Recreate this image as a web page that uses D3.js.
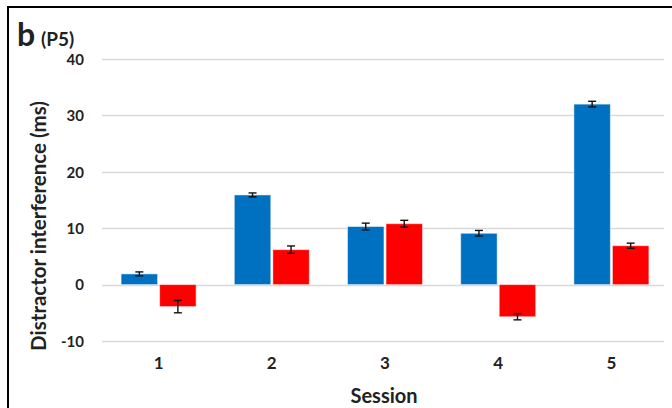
<!DOCTYPE html>
<html>
<head>
<meta charset="utf-8">
<script src="https://cdn.jsdelivr.net/npm/d3@7"></script>
<style>
  html, body { margin: 0; padding: 0; background: #fff; }
  svg { display: block; }
  text { font-family: Lato, "Open Sans", "Liberation Sans", sans-serif; font-weight: 700; fill: #222; }
</style>
</head>
<body>
<svg id="chart" width="672" height="408"></svg>
<script>
// Distractor interference per session (P5), two conditions
const sessions = ["1", "2", "3", "4", "5"];
const seriesNames = ["blue", "red"];
const blueValues = [1.9, 15.9, 10.3, 9.1, 32.0];
const blueErrors = [0.35, 0.35, 0.6, 0.5, 0.5];
const redValues = [-3.9, 6.2, 10.8, -5.7, 6.9];
const redErrors = [1.1, 0.65, 0.6, 0.55, 0.45];
const yTicks = [-10, 0, 10, 20, 30, 40];
const seriesColors = ["#0070C0", "#FF0000"];

const svg = d3.select("#chart");
const W = 672, H = 408;
const plot = { left: 102, right: 668, top: 59, bottom: 341 };

// outer frame (runs off the right and bottom edges)
svg.append("rect")
  .attr("x", 8).attr("y", 7)
  .attr("width", W + 20).attr("height", H + 20)
  .attr("fill", "none").attr("stroke", "#000").attr("stroke-width", 2);

const x = d3.scaleBand().domain(sessions).range([plot.left, plot.right]).paddingInner(0).paddingOuter(0);
const y = d3.scaleLinear().domain([-10, 40]).range([plot.bottom, plot.top]);

// gridlines
svg.append("g").selectAll("line").data(yTicks).join("line")
  .attr("x1", plot.left).attr("x2", plot.right - 4)
  .attr("y1", d => Math.round(y(d)) + 0.5).attr("y2", d => Math.round(y(d)) + 0.5)
  .attr("stroke", "#d9d9d9").attr("stroke-width", 1.5);

// y axis labels
const yAxis = d3.axisLeft(y).tickValues(yTicks).tickFormat(d => String(d)).tickSize(0).tickPadding(0);
const gy = svg.append("g").attr("transform", `translate(84,0)`).call(yAxis);
gy.select(".domain").remove();
gy.selectAll("text").attr("font-size", 15).attr("font-family", null).attr("fill", "#222").attr("dy", "0.35em");

// x axis labels
const xAxis = d3.axisBottom(x).tickSize(0).tickPadding(0);
const gx = svg.append("g").attr("transform", `translate(0,357)`).call(xAxis);
gx.select(".domain").remove();
gx.selectAll("text").attr("font-size", 17).attr("font-family", null).attr("fill", "#222").attr("dy", "0.71em");

// bars
const barW = 35.5, gap = 4;
const inner = d3.scaleBand().domain(seriesNames).range([0, 2 * barW + gap]).paddingInner(gap / (2 * barW + gap));
const rows = sessions.map((s, i) => [
  { s, k: "blue", v: blueValues[i], e: blueErrors[i], c: seriesColors[0] },
  { s, k: "red", v: redValues[i], e: redErrors[i], c: seriesColors[1] }
]).flat();
const groupStart = s => x(s) + x.bandwidth() / 2 - (2 * barW + gap) / 2;

svg.append("g").selectAll("rect").data(rows).join("rect")
  .attr("x", d => groupStart(d.s) + inner(d.k))
  .attr("width", inner.bandwidth())
  .attr("y", d => y(Math.max(0, d.v)))
  .attr("height", d => Math.abs(y(d.v) - y(0)))
  .attr("fill", d => d.c)
  .attr("stroke", "#fff").attr("stroke-opacity", 0.5).attr("stroke-width", 1);

// error bars
const eb = svg.append("g").attr("stroke", "#111").attr("stroke-width", 1.4);
rows.forEach(d => {
  const cx = groupStart(d.s) + inner(d.k) + inner.bandwidth() / 2;
  const y1 = y(d.v + d.e), y2 = y(d.v - d.e);
  eb.append("line").attr("x1", cx).attr("x2", cx).attr("y1", y1).attr("y2", y2);
  eb.append("line").attr("x1", cx - 4).attr("x2", cx + 4).attr("y1", y1).attr("y2", y1);
  eb.append("line").attr("x1", cx - 4).attr("x2", cx + 4).attr("y1", y2).attr("y2", y2);
});

// titles
svg.append("text").attr("x", 17).attr("y", 46).attr("font-size", 32).text("b");
svg.append("text").attr("x", 41).attr("y", 46).attr("font-size", 19).text("(P5)");

svg.append("text")
  .attr("transform", `translate(46,226) rotate(-90)`)
  .attr("text-anchor", "middle")
  .attr("font-size", 20.5)
  .text("Distractor interference (ms)");

svg.append("text")
  .attr("x", 384).attr("y", 403)
  .attr("text-anchor", "middle")
  .attr("font-size", 20)
  .text("Session");
</script>
</body>
</html>
